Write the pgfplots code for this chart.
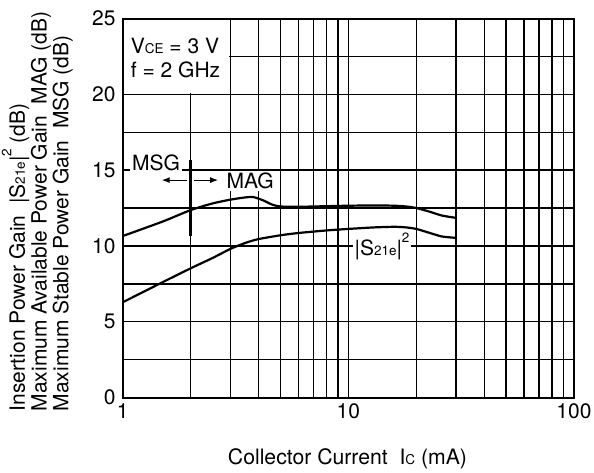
\documentclass[border=0pt]{standalone}
\usepackage{fontspec}
\setmainfont{TeX Gyre Heros}
\usepackage{pgfplots}
\pgfplotsset{compat=1.18}
\usetikzlibrary{arrows.meta}
\newcommand{\sbs}[1]{{\fontsize{13.5}{13.5}\selectfont #1}}
\newcommand{\sps}[1]{\smash{\raisebox{0.65em}{\fontsize{13.5}{13.5}\selectfont #1}}}
\begin{document}
\fontsize{21}{21}\selectfont
\begin{tikzpicture}
\useasboundingbox (-122.7pt,-74.5pt) rectangle (471.3pt,397.5pt);
\begin{axis}[
  at={(0pt,0pt)}, anchor=south west,
  scale only axis, width=451.3pt, height=379pt,
  xmode=log, xmin=1, xmax=100, ymin=0, ymax=25,
  xtick={1,10,100}, xticklabels={1,10,100},
  minor xtick={2,3,4,5,6,7,8,9,20,30,40,50,60,70,80,90},
  ytick={0,5,...,25}, minor ytick={2.5,7.5,...,22.5},
  grid=both,
  major grid style={black, line width=1.4pt},
  minor grid style={black, line width=1.4pt},
  axis line style={black, line width=2pt},
  major tick length=0pt, minor tick length=0pt,
  tick label style={font=\fontsize{21}{21}\selectfont},
  /pgf/number format/assume math mode=true,
  yticklabel style={inner sep=0pt, xshift=-7pt},
  xticklabel style={inner sep=0pt, yshift=-6pt},
  clip=false,
]
\fill[white] ([xshift=1.7pt,yshift=1.3pt]axis cs:1,20) rectangle ([xshift=-1.3pt,yshift=-1.7pt]axis cs:3,25);
% MAG / MSG
\addplot[black, line width=2.2pt, smooth, tension=0.4] coordinates {
(1,10.65) (1.5,11.6) (2,12.36) (2.5,12.8) (3,13.05) (3.5,13.2) (3.8,13.22) (4.2,13.0) (4.6,12.72) (5,12.6) (6,12.58) (8,12.62) (10,12.65) (13,12.67) (16,12.65) (18,12.6) (20,12.5) (23,12.25) (26,12.0) (30,11.85)};
% |S21e|^2
\addplot[black, line width=2.2pt, smooth, tension=0.4] coordinates {
(1,6.28) (1.5,7.6) (2,8.52) (2.5,9.2) (3,9.8) (3.5,10.2) (4,10.45) (5,10.7) (6,10.85) (8,11.02) (10,11.12) (13,11.22) (16,11.26) (18,11.22) (20,11.12) (23,10.85) (26,10.62) (30,10.53)};
% MSG/MAG boundary
\addplot[black, line width=3.5pt] coordinates {(2,10.65) (2,15.66)};
\addplot[black, line width=1.2pt, -{Latex[length=8pt,width=6pt]}] coordinates {(1.92,14.34) (1.489,14.34)};
\addplot[black, line width=1.2pt, -{Latex[length=8pt,width=6pt]}] coordinates {(2.08,14.34) (2.65,14.34)};
\node[fill=white, inner sep=2pt] at (axis cs:1.405,15.49) {MSG};
\node[fill=white, inner sep=2pt] at (axis cs:3.67,14.29) {MAG};
\node[fill=white, inner sep=2pt] at (axis cs:14.1,9.72) {|S\sbs{21e}|\sps{2}};
\node[anchor=base west, inner sep=0pt] at ([yshift=-7.5pt]axis cs:1.085,23.2) {V\sbs{CE} = 3 V};
\node[anchor=base west, inner sep=0pt] at ([yshift=-7.5pt]axis cs:1.085,21.6) {f = 2 GHz};
\end{axis}
\begin{scope}[every node/.style={rotate=90, anchor=base west, inner sep=0pt, font=\fontsize{21}{21}\selectfont}]
\node at (-97.7pt,-14pt) {Insertion Power Gain\ \ |S\sbs{21e}|\sps{2} (dB)};
\node at (-76pt,-14pt) {Maximum Available Power Gain\ \ MAG (dB)};
\node at (-54.4pt,-14pt) {Maximum Stable Power Gain\ \ MSG (dB)};
\end{scope}
\node[anchor=base, inner sep=0pt, font=\fontsize{21.2}{21.2}\selectfont] at (224.8pt,-67pt) {Collector Current\ \ I\sbs{C} (mA)};
\end{tikzpicture}
\end{document}
